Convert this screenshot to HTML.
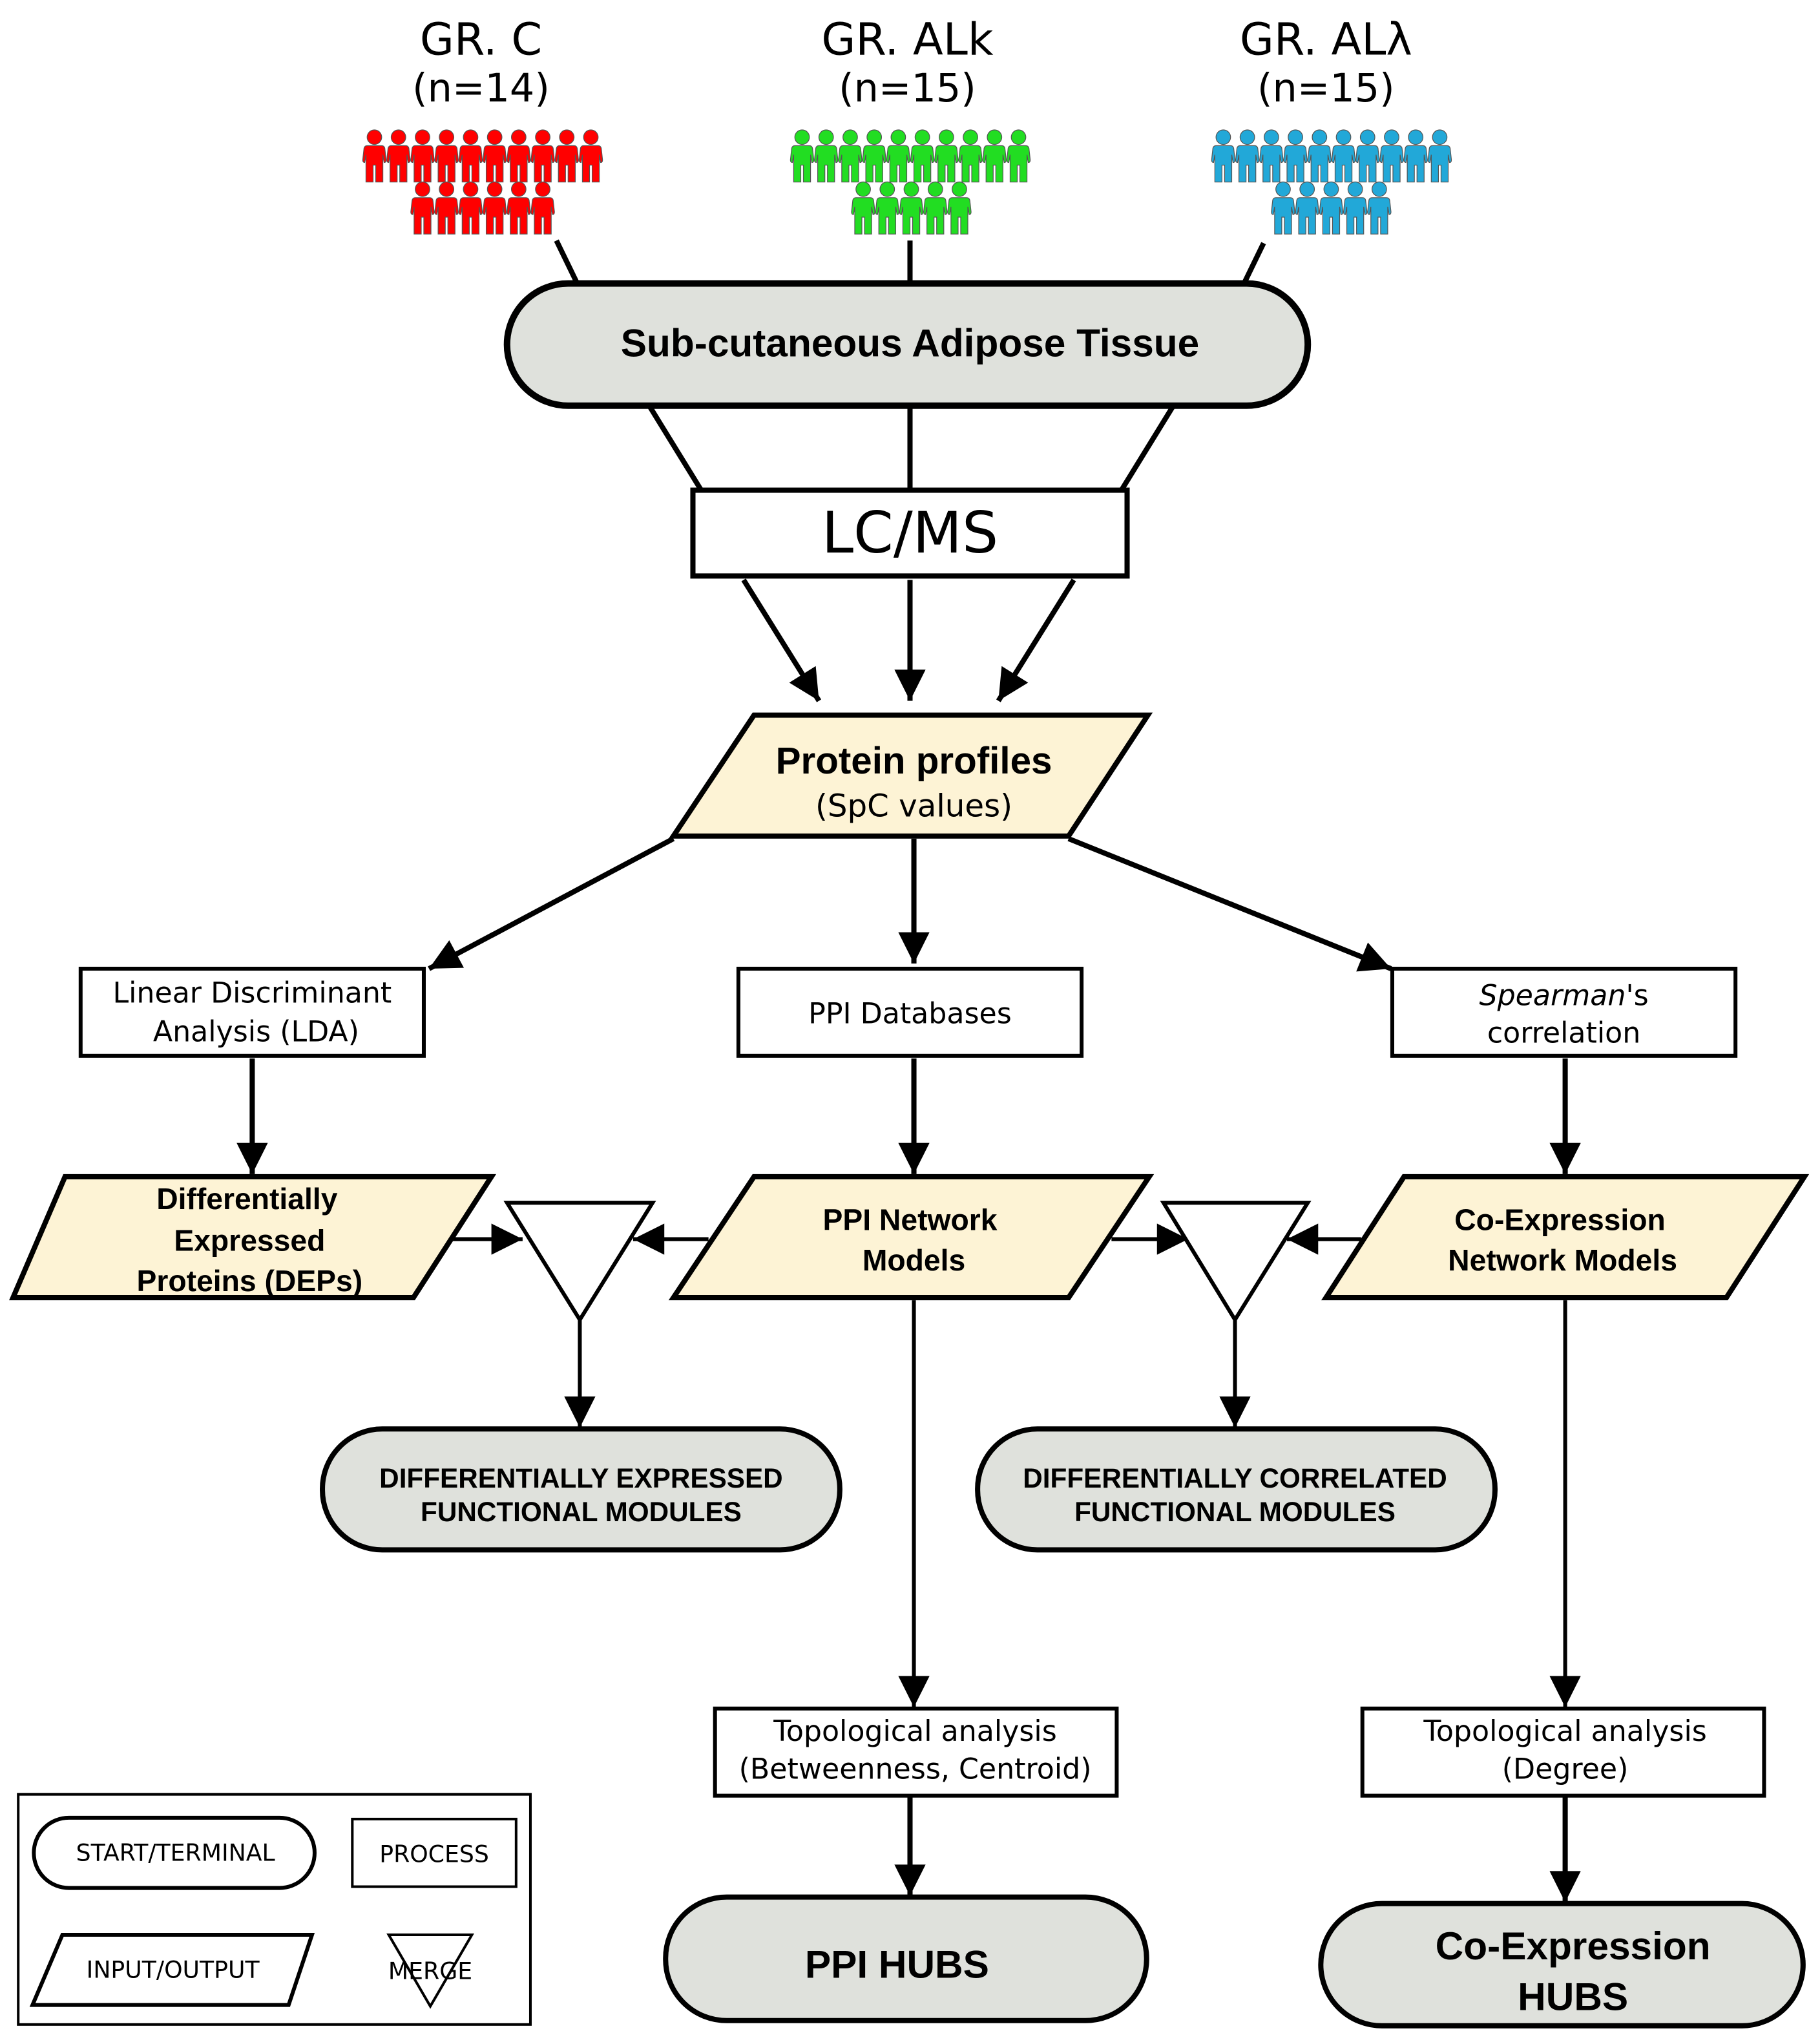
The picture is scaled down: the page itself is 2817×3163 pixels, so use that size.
<!DOCTYPE html>
<html><head><meta charset="utf-8"><style>html,body{margin:0;padding:0;background:#fff}svg{display:block}</style></head><body>
<svg width="2817" height="3163" viewBox="0 0 1400 1572" xmlns="http://www.w3.org/2000/svg">
<defs>
<symbol id="p" viewBox="0 0 18 40" overflow="visible">
<circle cx="9" cy="5.5" r="5.6"/>
<path d="M3.5,12 H14.5 Q16.5,12 17,14 L18,23 Q18,25 16.5,25 L15.5,19 V40 H10 V27 H8 V40 H2.5 V19 L1.5,25 Q0,25 0,23 L1,14 Q1.5,12 3.5,12 Z"/>
</symbol>
<marker id="A" viewBox="0 0 10 10" refX="10" refY="5" markerWidth="26" markerHeight="24" orient="auto" markerUnits="userSpaceOnUse"><path d="M0,0 L10,5 L0,10 z" fill="#000"/></marker>
</defs>
<rect width="1400" height="1572" fill="#fff"/>
<g font-family="DejaVu Sans, Liberation Sans, sans-serif" text-anchor="middle" fill="#000">
<text x="370" y="42" font-size="34">GR. C</text><text x="370" y="78" font-size="30">(n=14)</text>
<text x="698" y="42" font-size="34">GR. ALk</text><text x="698" y="78" font-size="30">(n=15)</text>
<text x="1020" y="42" font-size="34">GR. ALλ</text><text x="1020" y="78" font-size="30">(n=15)</text>
</g>
<g fill="#ff0000" stroke="#555" stroke-width="0.6">
<use href="#p" x="279" y="100" width="18" height="40"/><use href="#p" x="297.5" y="100" width="18" height="40"/><use href="#p" x="316" y="100" width="18" height="40"/><use href="#p" x="334.5" y="100" width="18" height="40"/><use href="#p" x="353" y="100" width="18" height="40"/><use href="#p" x="371.5" y="100" width="18" height="40"/><use href="#p" x="390" y="100" width="18" height="40"/><use href="#p" x="408.5" y="100" width="18" height="40"/><use href="#p" x="427" y="100" width="18" height="40"/><use href="#p" x="445.5" y="100" width="18" height="40"/>
<use href="#p" x="316" y="140" width="18" height="40"/><use href="#p" x="334.5" y="140" width="18" height="40"/><use href="#p" x="353" y="140" width="18" height="40"/><use href="#p" x="371.5" y="140" width="18" height="40"/><use href="#p" x="390" y="140" width="18" height="40"/><use href="#p" x="408.5" y="140" width="18" height="40"/>
</g>
<g fill="#22dd22" stroke="#555" stroke-width="0.6">
<use href="#p" x="608" y="100" width="18" height="40"/><use href="#p" x="626.5" y="100" width="18" height="40"/><use href="#p" x="645" y="100" width="18" height="40"/><use href="#p" x="663.5" y="100" width="18" height="40"/><use href="#p" x="682" y="100" width="18" height="40"/><use href="#p" x="700.5" y="100" width="18" height="40"/><use href="#p" x="719" y="100" width="18" height="40"/><use href="#p" x="737.5" y="100" width="18" height="40"/><use href="#p" x="756" y="100" width="18" height="40"/><use href="#p" x="774.5" y="100" width="18" height="40"/>
<use href="#p" x="655" y="140" width="18" height="40"/><use href="#p" x="673.5" y="140" width="18" height="40"/><use href="#p" x="692" y="140" width="18" height="40"/><use href="#p" x="710.5" y="140" width="18" height="40"/><use href="#p" x="729" y="140" width="18" height="40"/>
</g>
<g fill="#22a8d8" stroke="#555" stroke-width="0.6">
<use href="#p" x="932" y="100" width="18" height="40"/><use href="#p" x="950.5" y="100" width="18" height="40"/><use href="#p" x="969" y="100" width="18" height="40"/><use href="#p" x="987.5" y="100" width="18" height="40"/><use href="#p" x="1006" y="100" width="18" height="40"/><use href="#p" x="1024.5" y="100" width="18" height="40"/><use href="#p" x="1043" y="100" width="18" height="40"/><use href="#p" x="1061.5" y="100" width="18" height="40"/><use href="#p" x="1080" y="100" width="18" height="40"/><use href="#p" x="1098.5" y="100" width="18" height="40"/>
<use href="#p" x="978" y="140" width="18" height="40"/><use href="#p" x="996.5" y="140" width="18" height="40"/><use href="#p" x="1015" y="140" width="18" height="40"/><use href="#p" x="1033.5" y="140" width="18" height="40"/><use href="#p" x="1052" y="140" width="18" height="40"/>
</g>
<g stroke="#000" stroke-width="4" fill="none">
<line x1="428" y1="185" x2="445" y2="220"/><line x1="700" y1="185" x2="700" y2="217"/><line x1="972" y1="187" x2="955" y2="222"/>
<line x1="500" y1="313" x2="540" y2="378"/><line x1="700" y1="313" x2="700" y2="378"/><line x1="902" y1="313" x2="862" y2="378"/>
</g>
<g stroke="#000" stroke-width="4" fill="none" marker-end="url(#A)">
<line x1="572" y1="446" x2="630" y2="539"/><line x1="700" y1="446" x2="700" y2="539"/><line x1="826" y1="446" x2="768" y2="539"/>
<line x1="518" y1="645" x2="330" y2="745"/><line x1="703" y1="645" x2="703" y2="741"/><line x1="822" y1="645" x2="1070" y2="745"/>
<line x1="194" y1="814" x2="194" y2="903"/><line x1="703" y1="814" x2="703" y2="903"/><line x1="1204" y1="814" x2="1204" y2="903"/>
</g>
<g stroke="#000" stroke-width="3" fill="none" marker-end="url(#A)">
<line x1="345" y1="953" x2="402" y2="953"/><line x1="545" y1="953" x2="487" y2="953"/><line x1="855" y1="953" x2="914" y2="953"/><line x1="1047" y1="953" x2="990" y2="953"/>
<line x1="446" y1="1015" x2="446" y2="1098"/><line x1="950" y1="1015" x2="950" y2="1098"/>
<line x1="703" y1="1000" x2="703" y2="1313"/><line x1="1204" y1="1000" x2="1204" y2="1313"/>
</g>
<g stroke="#000" stroke-width="4" fill="none" marker-end="url(#A)">
<line x1="700" y1="1382" x2="700" y2="1458"/><line x1="1204" y1="1382" x2="1204" y2="1463"/>
</g>
<rect x="390" y="218" width="616" height="94" rx="47" fill="#dfe1dc" stroke="#000" stroke-width="5"/>
<rect x="533" y="377" width="334" height="66" fill="#fff" stroke="#000" stroke-width="4"/>
<polygon points="580,550 883,550 822,643 518,643" fill="#fdf3d5" stroke="#000" stroke-width="4"/>
<g fill="#fff" stroke="#000" stroke-width="3">
<rect x="62" y="745" width="264" height="67"/><rect x="568" y="745" width="264" height="67"/><rect x="1071" y="745" width="264" height="67"/>
<rect x="550" y="1314" width="309" height="67"/><rect x="1048" y="1314" width="309" height="67"/>
</g>
<g fill="#fdf3d5" stroke="#000" stroke-width="4">
<polygon points="50,905 378,905 318,998 10,998"/><polygon points="580,905 884,905 822,998 518,998"/><polygon points="1080,905 1388,905 1328,998 1020,998"/>
</g>
<g fill="#fff" stroke="#000" stroke-width="3">
<polygon points="390,925 502,925 446,1015"/><polygon points="895,925 1006,925 950,1015"/>
</g>
<g fill="#dfe1dc" stroke="#000" stroke-width="4">
<rect x="248" y="1099" width="398" height="93" rx="46"/><rect x="752" y="1099" width="398" height="93" rx="46"/>
<rect x="512" y="1459" width="370" height="95" rx="47"/><rect x="1016" y="1464" width="371" height="94" rx="47"/>
</g>
<g font-family="Liberation Sans, Arial, sans-serif" font-weight="bold" text-anchor="middle" fill="#000">
<text x="700" y="274" font-size="30">Sub-cutaneous Adipose Tissue</text>
<text x="703" y="595" font-size="29">Protein profiles</text>
<text x="190" y="930" font-size="23">Differentially</text><text x="192" y="962" font-size="23">Expressed</text><text x="192" y="993" font-size="23">Proteins (DEPs)</text>
<text x="700" y="946" font-size="23">PPI Network</text><text x="703" y="977" font-size="23">Models</text>
<text x="1200" y="946" font-size="23">Co-Expression</text><text x="1202" y="977" font-size="23">Network Models</text>
<text x="447" y="1144" font-size="21">DIFFERENTIALLY EXPRESSED</text><text x="447" y="1170" font-size="21">FUNCTIONAL MODULES</text>
<text x="950" y="1144" font-size="21">DIFFERENTIALLY CORRELATED</text><text x="950" y="1170" font-size="21">FUNCTIONAL MODULES</text>
<text x="690" y="1521" font-size="30">PPI HUBS</text>
<text x="1210" y="1507" font-size="30">Co-Expression</text><text x="1210" y="1546" font-size="30">HUBS</text>
</g>
<g font-family="DejaVu Sans, Liberation Sans, sans-serif" text-anchor="middle" fill="#000">
<text x="700" y="425" font-size="44">LC/MS</text>
<text x="703" y="628" font-size="24">(SpC values)</text>
<text x="194" y="771" font-size="22">Linear Discriminant</text><text x="197" y="801" font-size="22">Analysis (LDA)</text>
<text x="700" y="787" font-size="22">PPI Databases</text>
<text x="1203" y="773" font-size="22"><tspan font-style="italic">Spearman</tspan>'s</text><text x="1203" y="802" font-size="22">correlation</text>
<text x="704" y="1339" font-size="22">Topological analysis</text><text x="704" y="1368" font-size="22">(Betweenness, Centroid)</text>
<text x="1204" y="1339" font-size="22">Topological analysis</text><text x="1204" y="1368" font-size="22">(Degree)</text>
</g>
<rect x="14" y="1380" width="394" height="177" fill="none" stroke="#000" stroke-width="2"/>
<rect x="26" y="1398" width="216" height="54" rx="27" fill="#fff" stroke="#000" stroke-width="3"/>
<rect x="271" y="1399" width="126" height="52" fill="#fff" stroke="#000" stroke-width="2"/>
<polygon points="48,1488 240,1488 222,1542 25,1542" fill="#fff" stroke="#000" stroke-width="3"/>
<polygon points="299,1488 363,1488 331,1543" fill="none" stroke="#000" stroke-width="2"/>
<g font-family="DejaVu Sans, Liberation Sans, sans-serif" text-anchor="middle" fill="#000" font-size="18">
<text x="135" y="1431">START/TERMINAL</text><text x="334" y="1432">PROCESS</text>
<text x="133" y="1521">INPUT/OUTPUT</text><text x="331" y="1522">MERGE</text>
</g>
</svg>
</body></html>
